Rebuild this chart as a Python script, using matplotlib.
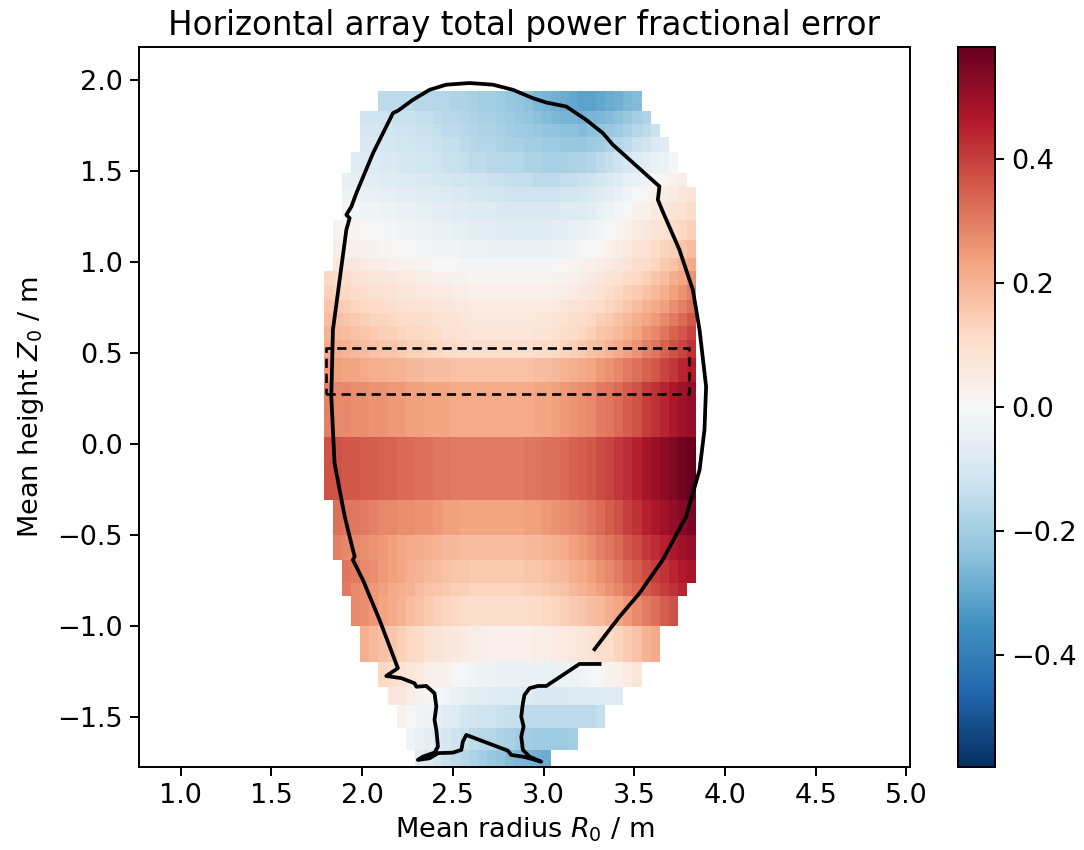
import numpy as np
import matplotlib
matplotlib.use("Agg")
import matplotlib.pyplot as plt

# ---------------- data ----------------
# radial cell edges (m) and vertical row edges (m), top to bottom
R_edges = np.linspace(1.79, 3.84, 42)
Z_edges = [1.936, 1.830, 1.755, 1.684, 1.604, 1.489, 1.412, 1.331, 1.228, 1.121,
           1.020, 0.951, 0.871, 0.791, 0.718, 0.645, 0.571, 0.473, 0.341, 0.038,
           -0.308, -0.500, -0.637, -0.764, -0.835, -1.003, -1.198, -1.334, -1.434,
           -1.562, -1.681, -1.80]

# first radial cell index of each row
row_start = [6, 4, 4, 4, 3, 2, 2, 2, 1, 1, 1, 0, 0, 0, 0, 0, 0, 0, 0, 0,
             1, 1, 2, 2, 3, 4, 6, 7, 8, 9, 10]

# fractional error in percent, per row
row_vals = [
    [-15,-15,-15,-15,-16,-16,-17,-17,-18,-18,-19,-20,-20,-21,-22,-23,-24,-26,-27,-28,-29,-30,-31,-31,-30,-29,-28,-26,-25],
    [-12,-12,-12,-13,-13,-13,-14,-14,-15,-16,-16,-17,-18,-19,-19,-20,-21,-22,-23,-24,-25,-26,-27,-27,-28,-27,-26,-25,-24,-22,-20,-18],
    [-10,-10,-11,-11,-12,-12,-13,-13,-14,-15,-15,-16,-17,-18,-18,-19,-20,-21,-21,-22,-23,-23,-24,-24,-25,-24,-23,-22,-21,-19,-17,-15,-13],
    [-9,-9,-10,-10,-11,-11,-12,-12,-13,-14,-14,-15,-16,-17,-17,-18,-19,-19,-20,-20,-21,-21,-22,-22,-22,-21,-20,-18,-17,-15,-13,-11,-9,-7],
    [-7,-8,-8,-9,-9,-10,-10,-11,-11,-12,-13,-13,-14,-15,-15,-16,-16,-17,-17,-18,-18,-19,-19,-19,-18,-18,-17,-15,-14,-12,-10,-8,-6,-4,-3,-1],
    [-5,-5,-6,-6,-7,-7,-8,-8,-9,-9,-10,-10,-11,-11,-12,-12,-13,-13,-14,-14,-14,-15,-15,-15,-14,-14,-13,-12,-10,-9,-7,-5,-4,-2,0,1,3,4],
    [-3,-3,-4,-4,-5,-5,-6,-6,-7,-7,-8,-8,-9,-9,-10,-10,-11,-11,-12,-12,-12,-12,-12,-12,-11,-11,-10,-9,-7,-6,-4,-2,0,1,3,4,5,7,8],
    [-1,-1,-2,-2,-3,-3,-4,-4,-5,-5,-6,-6,-7,-7,-8,-8,-8,-9,-9,-9,-9,-9,-9,-9,-8,-8,-7,-6,-4,-3,-1,0,2,3,5,6,8,9,11],
    [2,1,1,0,0,-1,-1,-2,-2,-3,-3,-4,-4,-5,-5,-6,-6,-6,-7,-7,-7,-7,-7,-7,-6,-6,-5,-4,-3,-2,0,1,3,5,6,8,9,11,12,14],
    [4,3,3,2,2,1,1,0,0,-1,-1,-2,-2,-2,-3,-3,-3,-4,-4,-4,-4,-4,-4,-4,-3,-3,-2,-1,0,1,3,4,6,8,9,11,13,14,16,18],
    [7,6,6,5,4,4,3,2,2,1,1,0,0,0,-1,-1,-1,-1,-1,-1,-1,-1,-1,-1,0,0,1,2,3,4,5,6,8,10,11,13,15,17,20,22],
    [12,11,10,9,8,7,7,6,5,5,4,4,3,3,2,2,1,1,1,1,1,1,1,1,1,2,2,3,4,5,6,8,9,11,12,14,16,18,21,23,26],
    [14,13,12,11,10,9,9,8,7,7,6,6,5,5,4,4,3,3,3,3,3,3,3,3,3,4,4,5,6,7,9,10,12,14,15,17,19,21,24,26,29],
    [16,15,14,13,12,11,11,10,9,9,8,8,7,7,6,6,5,5,5,5,5,5,5,5,5,6,7,8,9,10,11,13,14,16,18,20,22,24,27,29,32],
    [18,17,16,15,14,13,13,12,11,11,10,10,9,8,8,7,6,6,6,6,6,6,6,7,7,8,9,10,11,12,14,15,17,19,21,23,25,28,30,33,36],
    [20,19,18,17,16,15,14,14,13,12,12,11,10,9,9,8,7,7,7,7,7,7,7,8,8,9,10,11,12,14,16,17,19,21,23,26,28,31,34,36,39],
    [22,21,20,19,18,17,16,16,15,14,14,13,12,11,11,10,10,10,10,10,10,10,10,11,11,12,13,14,15,17,18,20,22,24,26,29,31,34,37,39,42],
    [25,24,23,23,22,21,21,20,20,19,19,18,18,18,17,17,17,17,17,17,17,17,17,18,18,19,20,21,22,23,25,26,28,30,32,34,36,39,41,44,46],
    [29,28,28,27,27,26,26,25,25,24,24,23,23,23,22,22,22,22,22,22,22,22,22,23,23,24,25,26,27,28,30,31,33,35,37,40,42,44,47,49,51],
    [37,37,36,36,35,35,34,34,33,33,32,32,31,31,30,30,30,30,30,30,30,30,31,31,32,32,33,34,35,36,38,39,41,43,45,48,50,52,54,56,58],
    [32,31,31,30,29,28,28,27,27,26,26,25,24,24,23,23,23,23,23,23,23,24,24,25,26,27,28,29,31,33,35,37,40,42,45,47,49,51,53,55],
    [29,28,28,27,26,25,24,23,22,22,21,20,19,19,18,18,18,18,18,18,18,19,19,20,21,22,24,25,27,29,31,33,36,38,41,43,45,47,49,51],
    [31,30,28,27,25,24,23,21,20,19,18,17,16,16,15,15,15,15,15,15,16,16,17,18,19,21,22,24,26,28,30,33,35,38,40,42,44,46,48],
    [30,28,27,25,24,22,21,20,18,17,16,15,14,14,13,13,13,13,13,13,14,14,15,16,17,19,20,22,24,26,28,31,33,36,38,40,42,44],
    [28,27,25,23,22,20,18,17,15,14,13,12,11,10,10,10,10,10,10,11,11,12,13,14,15,16,18,19,21,23,25,28,30,32,35,37],
    [21,19,17,16,14,12,11,9,8,7,6,5,4,4,3,3,3,3,3,4,4,5,5,6,7,8,10,11,13,15,17,20,22],
    [12,10,9,7,6,4,3,2,0,-1,-2,-3,-3,-4,-4,-4,-4,-4,-4,-4,-3,-3,-2,-1,0,2,3,5,7],
    [7,6,4,2,1,-1,-2,-4,-5,-6,-6,-7,-7,-8,-8,-8,-9,-9,-9,-9,-8,-8,-8,-8,-7,-7],
    [2,0,-2,-3,-5,-7,-8,-10,-11,-12,-12,-13,-14,-14,-15,-15,-15,-15,-15,-15,-15,-15,-14],
    [-2,-4,-6,-8,-10,-12,-13,-15,-16,-17,-18,-19,-20,-20,-21,-21,-21,-21,-20],
    [-7,-9,-11,-13,-15,-16,-18,-20,-22,-23,-25,-26,-27,-28,-29],
]

# plasma boundary / wall contour (m)
bound_R = [3.281, 3.327, 3.419, 3.529, 3.657, 3.786, 3.860, 3.887, 3.896, 3.860,
           3.823, 3.749, 3.657, 3.630, 3.639, 3.382, 3.327, 3.235, 3.125, 3.015,
           2.941, 2.831, 2.721, 2.592, 2.464, 2.372, 2.280, 2.197, 2.170, 2.060,
           1.968, 1.941, 1.913, 1.931, 1.913, 1.876, 1.839, 1.830, 1.848, 1.904,
           1.949, 1.959, 1.949, 2.004, 2.096, 2.197, 2.133, 2.216, 2.289, 2.299,
           2.354, 2.399, 2.409, 2.399, 2.409, 2.418, 2.399, 2.335, 2.307, 2.372,
           2.418, 2.500, 2.547, 2.555, 2.574, 2.803, 2.822, 2.886, 2.941, 2.987,
           2.923, 2.886, 2.877, 2.890, 2.877, 2.886, 2.895, 2.923, 2.969, 3.015,
           3.198, 3.309]
bound_Z = [-1.128, -1.068, -0.949, -0.820, -0.637, -0.399, -0.143, 0.077, 0.315, 0.626,
           0.846, 1.066, 1.276, 1.341, 1.414, 1.643, 1.707, 1.780, 1.853, 1.875,
           1.899, 1.945, 1.973, 1.982, 1.973, 1.945, 1.890, 1.830, 1.817, 1.597,
           1.377, 1.304, 1.258, 1.240, 1.176, 0.901, 0.626, 0.260, -0.106, -0.399,
           -0.582, -0.619, -0.637, -0.747, -0.967, -1.232, -1.275, -1.287, -1.315, -1.334,
           -1.330, -1.370, -1.443, -1.516, -1.571, -1.663, -1.696, -1.718, -1.736, -1.727,
           -1.699, -1.696, -1.681, -1.636, -1.599, -1.685, -1.709, -1.718, -1.732, -1.746,
           -1.718, -1.681, -1.608, -1.553, -1.498, -1.425, -1.379, -1.342, -1.330, -1.330,
           -1.209, -1.209]

# selected region (dashed box)
box_R = (1.80, 3.80)
box_Z = (0.275, 0.525)

# ---------------- figure ----------------
plt.rcParams["font.family"] = ["DejaVu Sans"]
plt.rcParams["font.size"] = 19.5

grid = np.full((len(Z_edges) - 1, len(R_edges) - 1), np.nan)
for i, (s, vals) in enumerate(zip(row_start, row_vals)):
    grid[i, s:s + len(vals)] = np.array(vals) / 100.0
grid = np.ma.masked_invalid(grid)

fig = plt.figure(figsize=(10.84, 8.5), dpi=100)
ax = fig.add_axes([139 / 1084, 83 / 850, 771 / 1084, 720 / 850])
cax = fig.add_axes([958 / 1084, 83 / 850, 37 / 1084, 720 / 850])

mesh = ax.pcolormesh(R_edges, Z_edges, grid, cmap="RdBu_r", vmin=-0.58, vmax=0.58)
ax.plot(bound_R, bound_Z, color="black", lw=2.7, solid_joinstyle="round")
ax.plot([box_R[0], box_R[1], box_R[1], box_R[0], box_R[0]],
        [box_Z[0], box_Z[0], box_Z[1], box_Z[1], box_Z[0]],
        color="black", lw=1.9, ls=(0, (3.5, 2.2)))

ax.set_xlim(0.77, 5.02)
ax.set_ylim(-1.775, 2.18)
ax.set_xticks([1.0, 1.5, 2.0, 2.5, 3.0, 3.5, 4.0, 4.5, 5.0])
ax.set_yticks([-1.5, -1.0, -0.5, 0.0, 0.5, 1.0, 1.5, 2.0])
ax.set_xlabel("Mean radius $R_0$ / m", labelpad=5)
ax.set_ylabel("Mean height $Z_0$ / m", labelpad=8)
ax.set_title("Horizontal array total power fractional error", fontsize=23.5, pad=9)
for a in (ax, cax):
    a.tick_params(width=1.4, length=6.5, pad=5)
    for sp in a.spines.values():
        sp.set_linewidth(1.4)

cb = fig.colorbar(mesh, cax=cax)
cb.set_ticks([-0.4, -0.2, 0.0, 0.2, 0.4])
cb.outline.set_linewidth(1.4)

fig.savefig("out.png", dpi=100)
